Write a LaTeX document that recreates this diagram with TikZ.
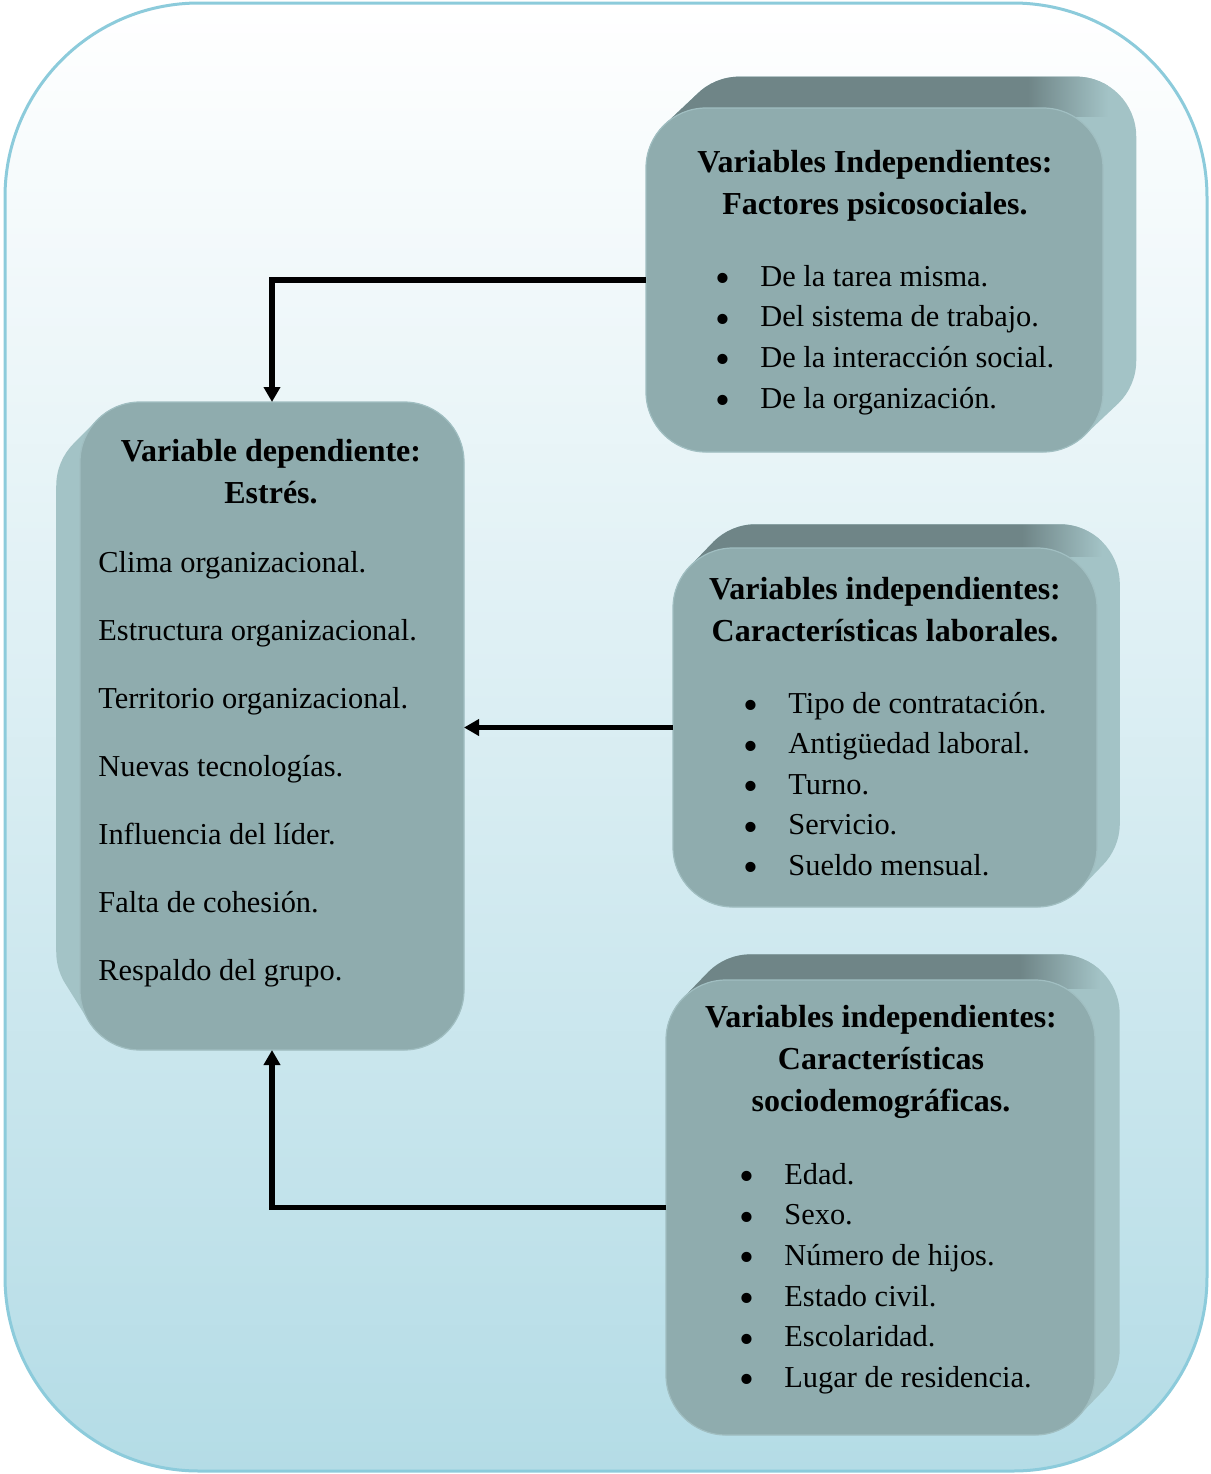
\documentclass[tikz,border=0pt]{standalone}
\usepackage{fontspec}
\usepackage{graphicx}
\setmainfont{Liberation Serif}
\usetikzlibrary{calc,arrows.meta}

\definecolor{facecol}{RGB}{143,172,174}
\definecolor{edgecol}{RGB}{160,190,193}
\definecolor{topcol}{RGB}{111,133,135}
\definecolor{sidecol}{RGB}{163,195,198}
\definecolor{framecol}{RGB}{140,203,219}
\definecolor{bgbot}{RGB}{180,220,230}

\tikzset{
  frame/.style={draw=framecol, line width=1.5pt, top color=white,
    bottom color=bgbot, rounded corners=97pt},
  facebox/.style={inner sep=0pt, outer sep=0pt},
  face/.style={fill=facecol, draw=edgecol, line width=0.6pt, rounded corners=30pt},
  title/.style={font=\fontsize{16}{21}\selectfont\bfseries, align=center, inner sep=0pt},
  items/.style={font=\fontsize{15.2}{20.3}\selectfont, align=left, inner sep=0pt, anchor=west},
  link/.style={line width=2.8pt, -{Triangle[length=7.5pt,width=8pt]}}
}

% depth of a box: back face moved by #2 (top left) and #3 (bottom right)
\newcommand{\solid}[4]{%
  \begin{scope}
    \clip[rounded corners=30pt] foreach \t in {0,0.05,...,1}
      {($(#1.north west)+\t*(#2)$) rectangle ($(#1.south east)+\t*(#3)$)};
    \fill[sidecol] ($(#1.north west)+(-80,-80)$) rectangle ($(#1.south east)+(80,80)$);
    #4
  \end{scope}}
\newcommand{\topband}[1]{%
  \fill[topcol] ($(#1.north west)+(-80,-80)$) rectangle ($(#1.north east)+(-75,60)$);
  \shade[left color=topcol, right color=sidecol]
    ($(#1.north east)+(-75,-80)$) rectangle ($(#1.north east)+(5,8)$);}
\newcommand{\itm}{\makebox[22.5pt][l]{\smash{\raisebox{-0.21em}{\scalebox{1.4}{\textbullet}}}}}

\begin{document}
\begin{tikzpicture}[x=0.5pt,y=-0.5pt]
  \useasboundingbox (0,0) rectangle (1211,1474);
  \shadedraw[frame] (5,3) rectangle (1207,1471);
  % faces
  \node[facebox, minimum width=192pt, minimum height=324pt] (dep) at (272,726) {};
  \node[facebox, minimum width=228.5pt, minimum height=172pt] (psico) at (874.5,280) {};
  \node[facebox, minimum width=212pt, minimum height=179.5pt] (labor) at (885,727.5) {};
  \node[facebox, minimum width=214.5pt, minimum height=227.5pt] (socio) at (880.5,1207.5) {};
  % depth
  \solid{dep}{-25,25}{-25,-40}{}
  \solid{psico}{35,-33}{35,-33}{\topband{psico}}
  \solid{labor}{24,-25}{24,-25}{\topband{labor}}
  \solid{socio}{26,-27}{26,-27}{\topband{socio}}
  \foreach \b in {dep,psico,labor,socio}
    \draw[face] (\b.north west) rectangle (\b.south east);
  % texts
  \node[title] (depT) at (271,472) {Variable dependiente:\\Estrés.};
  \node[items, font=\fontsize{15.2}{34}\selectfont] (depL) at (98,769)
    {Clima organizacional.\\Estructura organizacional.\\Territorio organizacional.\\
     Nuevas tecnologías.\\Influencia del líder.\\Falta de cohesión.\\Respaldo del grupo.};
  \node[title] (psicoT) at (875,186) {Variables Independientes:\\Factores psicosociales.};
  \node[items] (psicoL) at (715,340)
    {\itm De la tarea misma.\\\itm Del sistema de trabajo.\\
     \itm De la interacción social.\\\itm De la organización.};
  \node[title] (laborT) at (885,610) {Variables independientes:\\Características laborales.};
  \node[items] (laborL) at (743,784)
    {\itm Tipo de contratación.\\\itm Antigüedad laboral.\\\itm Turno.\\
     \itm Servicio.\\\itm Sueldo mensual.};
  \node[title] (socioT) at (881,1062)
    {Variables independientes:\\Características\\sociodemográficas.};
  \node[items] (socioL) at (739,1278.5)
    {\itm Edad.\\\itm Sexo.\\\itm Número de hijos.\\\itm Estado civil.\\
     \itm Escolaridad.\\\itm Lugar de residencia.};
  % arrows
  \draw[link] (psico.west) -| (dep.north);
  \draw[link] (labor.west) -- (labor.west -| dep.east);
  \draw[link] (socio.west) -| (dep.south);
\end{tikzpicture}
\end{document}
